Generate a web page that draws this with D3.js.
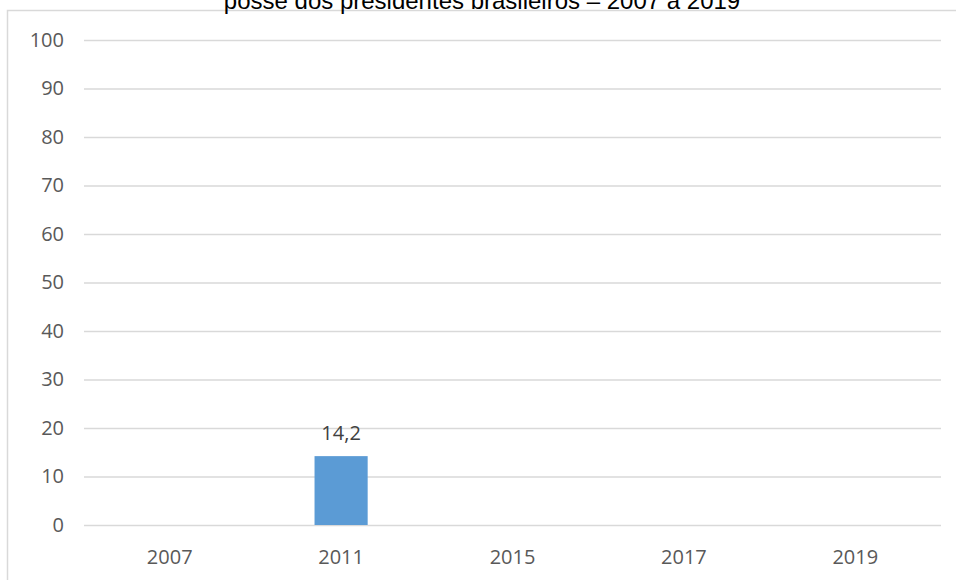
<!DOCTYPE html>
<meta charset="utf-8">
<script src="https://d3js.org/d3.v7.min.js"></script>
<style>
  body { margin: 0; background: #fff; }
</style>
<svg id="chart" width="956" height="580"></svg>
<script>
// chart data
const years = ["2007", "2011", "2015", "2017", "2019"];
const values = [null, 14.2, null, null, null];
const yTicks = [0, 10, 20, 30, 40, 50, 60, 70, 80, 90, 100];
const title = "posse dos presidentes brasileiros – 2007 a 2019";

const svg = d3.select("#chart");
const margin = {top: 40, right: 15, bottom: 55, left: 84};
const plotW = 941 - margin.left, plotH = 525 - margin.top;

// outer frame (cut off at right and bottom)
svg.append("rect")
  .attr("x", 7.5).attr("y", 10.5)
  .attr("width", 1000).attr("height", 1000)
  .attr("fill", "none").attr("stroke", "#d9d9d9").attr("stroke-width", 1.5);

// title, partly cropped at the top
svg.append("text")
  .attr("x", 482).attr("y", 9)
  .attr("text-anchor", "middle")
  .style("font-family", "'Liberation Sans', Arial, sans-serif")
  .style("font-size", "24px")
  .attr("fill", "#000")
  .text(title);

const g = svg.append("g").attr("transform", `translate(${margin.left},${margin.top})`);

const x = d3.scaleBand().domain(years).range([0, plotW]).paddingInner(0.69).paddingOuter(0.345);
const y = d3.scaleLinear().domain([0, 100]).range([plotH, 0]);

const tickFont = a => a
  .attr("fill", "#595959")
  .style("font-family", "'Open Sans', sans-serif")
  .style("font-size", "20px");

// gridlines + y labels
g.append("g")
  .call(d3.axisLeft(y).tickValues(yTicks).tickSize(-plotW).tickPadding(20))
  .call(a => a.select(".domain").remove())
  .call(a => a.selectAll("line").attr("stroke", "#d9d9d9").attr("stroke-width", 1.5))
  .call(a => tickFont(a.selectAll("text")));

// x labels
const xb = d3.scaleBand().domain(years).range([0, plotW]);
g.append("g")
  .attr("transform", `translate(0,${plotH})`)
  .call(d3.axisBottom(xb).tickSize(0).tickPadding(25))
  .call(a => a.select(".domain").remove())
  .call(a => tickFont(a.selectAll("text")));

const data = years.map((yr, i) => ({year: yr, value: values[i]})).filter(d => d.value != null);

g.selectAll("rect.bar")
  .data(data)
  .join("rect")
  .attr("class", "bar")
  .attr("x", d => x(d.year))
  .attr("y", d => y(d.value))
  .attr("width", x.bandwidth())
  .attr("height", d => plotH - y(d.value))
  .attr("fill", "#5b9bd5");

g.selectAll("text.lbl")
  .data(data)
  .join("text")
  .attr("class", "lbl")
  .attr("x", d => x(d.year) + x.bandwidth() / 2)
  .attr("y", d => y(d.value) - 16)
  .attr("text-anchor", "middle")
  .attr("fill", "#404040")
  .style("font-family", "'Open Sans', sans-serif")
  .style("font-size", "20px")
  .text(d => String(d.value).replace(".", ","));
</script>
